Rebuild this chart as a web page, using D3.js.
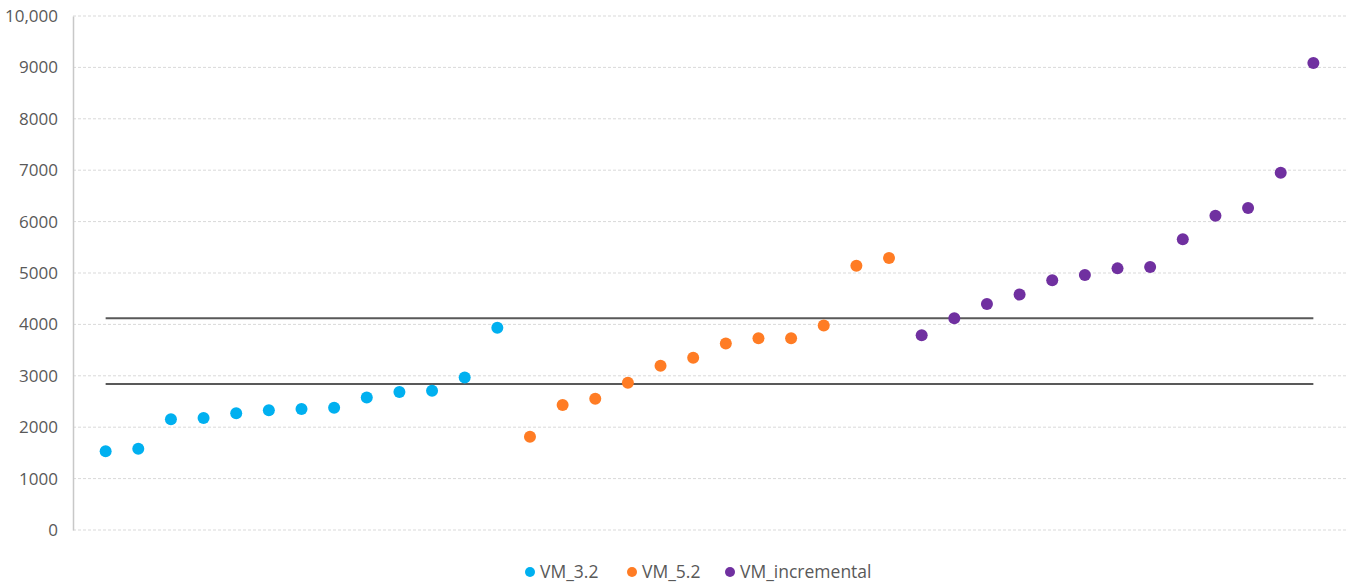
<!DOCTYPE html>
<html><head><meta charset="utf-8">
<script src="https://cdn.jsdelivr.net/npm/d3@7"></script>
<style>body{margin:0;background:#fff;} svg{display:block;font-family:"Open Sans","Noto Sans",sans-serif;}</style>
</head><body><svg id="c" width="1354" height="588"></svg>
<script>
const seriesNames = ["VM_3.2", "VM_5.2", "VM_incremental"];
const seriesColors = ["#00B0F0", "#FF7C24", "#7030A0"];
const vm32 = [1530, 1580, 2155, 2180, 2270, 2330, 2355, 2380, 2580, 2685, 2710, 2965, 3935];
const vm52 = [1815, 2430, 2555, 2865, 3195, 3350, 3630, 3730, 3730, 3980, 5140, 5290];
const vmInc = [3790, 4120, 4395, 4580, 4860, 4960, 5090, 5115, 5655, 6115, 6265, 6950, 9085];
const refLines = [4120, 2840];
const yTicks = [0, 1000, 2000, 3000, 4000, 5000, 6000, 7000, 8000, 9000, 10000];
const yTickLabels = ["0", "1000", "2000", "3000", "4000", "5000", "6000", "7000", "8000", "9000", "10,000"];

const allSeries = [vm32, vm52, vmInc];
const points = [];
let idx = 1;
allSeries.forEach((arr, s) => arr.forEach(v => { points.push({x: idx++, y: v, s}); }));
const nPts = points.length;

const svg = d3.select("#c");
const x = d3.scaleLinear().domain([0, nPts + 1]).range([73, 1346]);
const y = d3.scaleLinear().domain([0, 10000]).range([530, 16]);

// gridlines
svg.append("g").selectAll("line").data(yTicks).join("line")
  .attr("x1", x(0)).attr("x2", x(nPts + 1))
  .attr("y1", d => y(d)).attr("y2", d => y(d))
  .attr("stroke", "#d9d9d9").attr("stroke-width", 1).attr("stroke-dasharray", "3,2");

// y axis
const yAxis = d3.axisLeft(y).tickValues(yTicks).tickFormat((d, i) => yTickLabels[i]).tickSize(0).tickPadding(15);
const ga = svg.append("g").attr("transform", `translate(${x(0)},0)`).call(yAxis);
ga.select(".domain").attr("stroke", "#c8c8c8").attr("stroke-width", 1.5);
ga.selectAll("text").attr("fill", "#595959").style("font-size", "17px").style("font-family", "'Open Sans', sans-serif");

// reference lines
svg.append("g").selectAll("line").data(refLines).join("line")
  .attr("x1", x(1)).attr("x2", x(nPts))
  .attr("y1", d => y(d)).attr("y2", d => y(d))
  .attr("stroke", "#595959").attr("stroke-width", 2.2);

// points
svg.append("g").selectAll("circle").data(points).join("circle")
  .attr("cx", d => x(d.x)).attr("cy", d => y(d.y)).attr("r", 6)
  .attr("fill", d => seriesColors[d.s]);

// legend
const legendX = [530, 632, 730];
const lg = svg.append("g");
seriesNames.forEach((n, i) => {
  lg.append("circle").attr("cx", legendX[i]).attr("cy", 572).attr("r", 5).attr("fill", seriesColors[i]);
  lg.append("text").attr("x", legendX[i] + 10).attr("y", 578).text(n)
    .attr("fill", "#595959").style("font-size", "17.5px");
});
</script></body></html>
